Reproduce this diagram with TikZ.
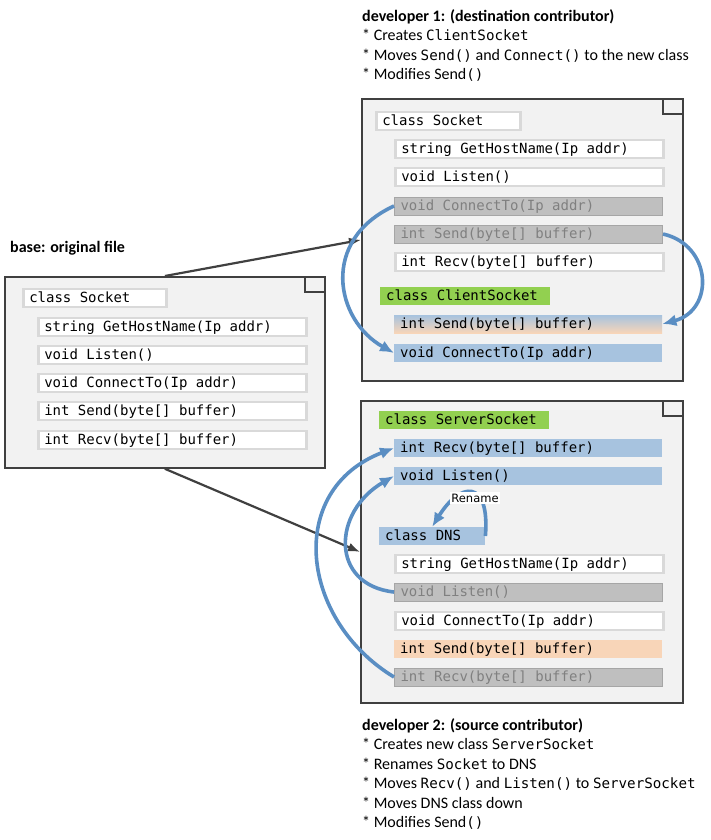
\documentclass[tikz,border=0pt]{standalone}
\usepackage{fontspec}
\setmainfont{Carlito}
\newfontfamily\codefont{DejaVu Sans Mono}
\newfontfamily\tagfont{DejaVu Sans}
\usetikzlibrary{arrows.meta}

\definecolor{framegray}{HTML}{404040}
\definecolor{filebg}{HTML}{F2F2F2}
\definecolor{rowline}{HTML}{D9D9D9}
\definecolor{oldfill}{HTML}{BFBFBF}
\definecolor{oldline}{HTML}{A6A6A6}
\definecolor{oldtext}{HTML}{808080}
\definecolor{movefill}{HTML}{A7C3DF}
\definecolor{editfill}{HTML}{F8D5B8}
\definecolor{newfill}{HTML}{92D050}
\definecolor{movearrow}{HTML}{5A8EC3}

\newcommand{\cw}[1]{{\codefont\fontsize{14.2}{19.5}\selectfont #1}}

\tikzstyle{file} = [rectangle,draw=framegray,line width=1.8pt,fill=filebg,anchor=north west,inner sep=0pt]
\tikzstyle{corner} = [rectangle,draw=framegray,line width=1.8pt,fill=filebg,anchor=north east,minimum width=20pt,minimum height=15pt,inner sep=0pt]
\tikzstyle{row} = [rectangle,anchor=west,minimum height=18pt,text width=256pt,inner xsep=6pt,inner ysep=0pt,align=flush left,text height=11pt,text depth=2pt,font=\codefont\fontsize{14}{14}\selectfont]
\tikzstyle{keep} = [row,draw=rowline,line width=2.5pt,fill=white]
\tikzstyle{gone} = [row,draw=oldline,line width=1pt,fill=oldfill,text=oldtext]
\tikzstyle{moved} = [row,fill=movefill]
\tikzstyle{edited} = [row,fill=editfill]
\tikzstyle{mixed} = [row,top color=movefill,bottom color=editfill]
\tikzstyle{added} = [row,fill=newfill]
\tikzstyle{note} = [anchor=north west,align=flush left,inner sep=0pt,font=\fontsize{16}{19.5}\selectfont]
\tikzstyle{flow} = [draw=framegray,line width=2.2pt]
\tikzstyle{move} = [draw=movearrow,line width=3.6pt,-{Latex[length=14pt,width=12pt]}]

\begin{document}
\begin{tikzpicture}[x=1pt,y=-1pt,>={Latex[length=12pt,width=9pt]}]
	\useasboundingbox (0,0) rectangle (711,840);

	% captions
	\node (note1) at (362,9) [note] {\textbf{developer 1: (destination contributor)}\\
		* Creates \cw{ClientSocket}\\
		* Moves \cw{Send()} and \cw{Connect()} to the new class\\
		* Modifies Send\cw{()}};
	\node (basetitle) at (10,241) [note] {\textbf{base: original file}};
	\node (note2) at (362,718) [note] {\textbf{developer 2: (source contributor)}\\
		* Creates new class \cw{ServerSocket}\\
		* Renames \cw{Socket} to DNS\\
		* Moves \cw{Recv()} and \cw{Listen()} to \cw{ServerSocket}\\
		* Moves DNS class down\\
		* Modifies Send\cw{()}};

	% base file
	\node (base) at (4,276) [file,minimum width=320pt,minimum height=191pt] {};
	\node (basecorner) at (base.north east) [corner] {};
	\node (bsock) at (22,298) [keep,text width=131pt] {class Socket};
	\node (bhost) at (37,327) [keep] {string GetHostName(Ip addr)};
	\node (blisten) at (37,355) [keep] {void Listen()};
	\node (bconn) at (37,383) [keep] {void ConnectTo(Ip addr)};
	\node (bsend) at (37,411) [keep] {int Send(byte[] buffer)};
	\node (brecv) at (37,440) [keep] {int Recv(byte[] buffer)};

	% developer 1
	\node (dev1) at (361,98) [file,minimum width=321pt,minimum height=282pt] {};
	\node (dev1corner) at (dev1.north east) [corner] {};
	\node (asock) at (375,121) [keep,text width=132pt] {class Socket};
	\node (ahost) at (394,149) [keep] {string GetHostName(Ip addr)};
	\node (alisten) at (394,177) [keep] {void Listen()};
	\node (aconnold) at (394,206) [gone] {void ConnectTo(Ip addr)};
	\node (asendold) at (394,234) [gone] {int Send(byte[] buffer)};
	\node (arecv) at (394,262) [keep] {int Recv(byte[] buffer)};
	\node (aclient) at (380,296) [added,text width=158pt] {class ClientSocket};
	\node (asend) at (394,324) [mixed] {int Send(byte[] buffer)};
	\node (aconn) at (394,353) [moved] {void ConnectTo(Ip addr)};

	% developer 2
	\node (dev2) at (360,400) [file,minimum width=322pt,minimum height=302pt] {};
	\node (dev2corner) at (dev2.north east) [corner] {};
	\node (cserver) at (379,420) [added,text width=158pt] {class ServerSocket};
	\node (crecv) at (394,448) [moved] {int Recv(byte[] buffer)};
	\node (clisten) at (394,476) [moved] {void Listen()};
	\node (cdns) at (379,536) [moved,text width=94pt] {class DNS};
	\node (chost) at (394,564) [keep] {string GetHostName(Ip addr)};
	\node (clistenold) at (394,592) [gone] {void Listen()};
	\node (cconn) at (394,621) [keep] {void ConnectTo(Ip addr)};
	\node (csend) at (394,649) [edited] {int Send(byte[] buffer)};
	\node (crecvold) at (394,677) [gone] {int Recv(byte[] buffer)};

	\path[->]
		(base.north) edge[flow] (dev1.west)
		(base.south) edge[flow] (dev2.west)
		;

	% moves
	\draw[move] (aconnold.west) .. controls (320,240) and (335,320) .. (aconn.west);
	\draw[move] (asendold.east) .. controls (712,245) and (715,310) .. (asend.east);
	\draw[move] (crecvold.west) .. controls (300,620) and (285,490) .. (crecv.west);
	\draw[move] (clistenold.west) .. controls (330,585) and (332,512) .. (clisten.west);
	\draw[move] (cdns.east) .. controls (490,478) and (460,482) .. (cdns.north);
	\node (renametag) at (475,498) [fill=white,inner sep=1.5pt,font=\tagfont\fontsize{11.5}{12}\selectfont] {Rename};

\end{tikzpicture}
\end{document}
